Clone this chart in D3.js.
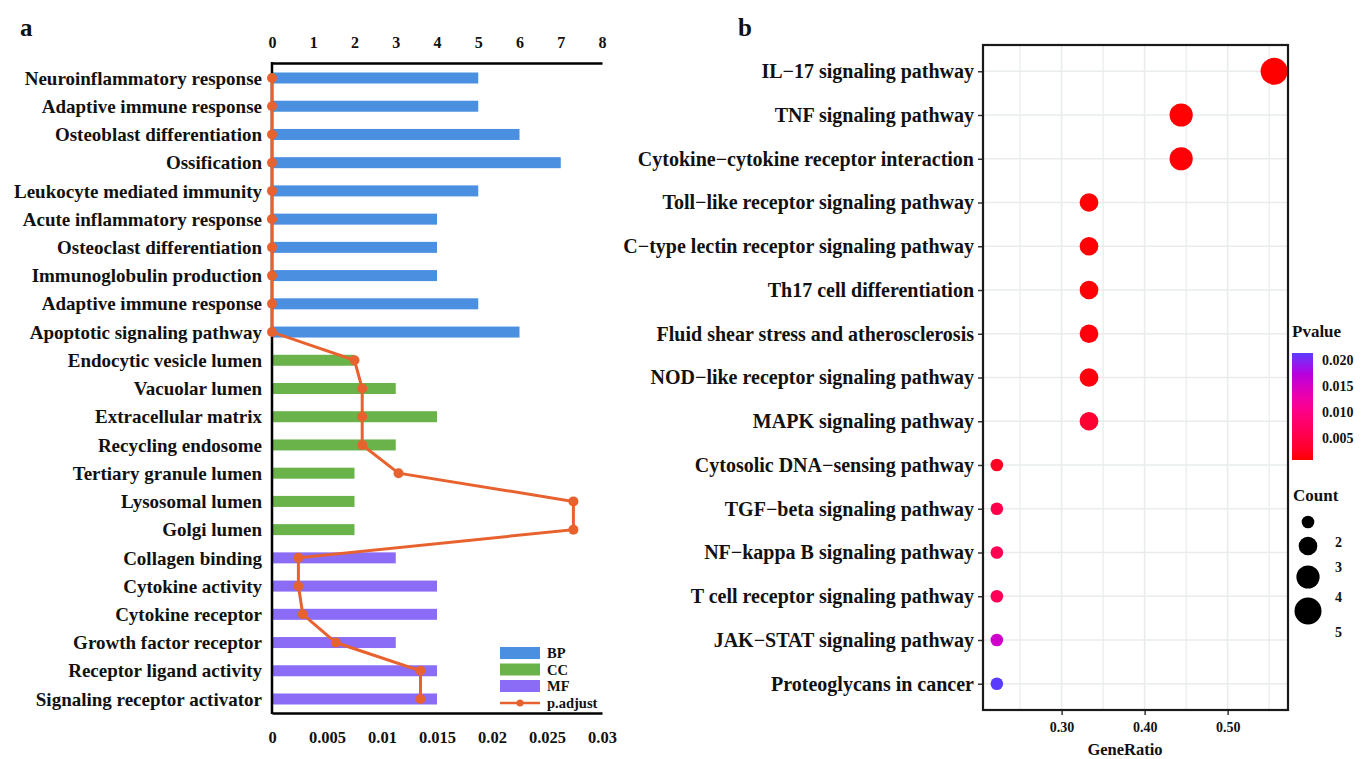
<!DOCTYPE html>
<html>
<head>
<meta charset="utf-8">
<script src="https://cdn.jsdelivr.net/npm/d3@7"></script>
<style>
  body { margin: 0; background: #fff; }
  svg text { font-family: "Liberation Serif", "Times New Roman", serif; font-weight: bold; fill: #111; }
</style>
</head>
<body>
<svg id="chart" width="1369" height="759"></svg>
<script>
// ---- panel a : GO terms ----
const goTerms = [
  "Neuroinflammatory response", "Adaptive immune response", "Osteoblast differentiation",
  "Ossification", "Leukocyte mediated immunity", "Acute inflammatory response",
  "Osteoclast differentiation", "Immunoglobulin production", "Adaptive immune response ",
  "Apoptotic signaling pathway", "Endocytic vesicle lumen", "Vacuolar lumen",
  "Extracellular matrix", "Recycling endosome", "Tertiary granule lumen",
  "Lysosomal lumen", "Golgi lumen", "Collagen binding", "Cytokine activity",
  "Cytokine receptor", "Growth factor receptor", "Receptor ligand activity",
  "Signaling receptor activator"
];
const goGroup = ["BP","BP","BP","BP","BP","BP","BP","BP","BP","BP",
  "CC","CC","CC","CC","CC","CC","CC",
  "MF","MF","MF","MF","MF","MF"];
const goCount = [5, 5, 6, 7, 5, 4, 4, 4, 5, 6, 2, 3, 4, 3, 2, 2, 2, 3, 4, 4, 3, 4, 4];
const goPadj = [0, 0, 0, 0, 0, 0, 0, 0, 0, 0,
  0.0075, 0.0082, 0.0082, 0.0082, 0.0115, 0.0274, 0.0274,
  0.0024, 0.0024, 0.0028, 0.0058, 0.0135, 0.0135];
const countTicks = [0, 1, 2, 3, 4, 5, 6, 7, 8];
const padjTicks = [0, 0.005, 0.01, 0.015, 0.02, 0.025, 0.03];
const groupNames = ["BP", "CC", "MF"];
const groupColors = ["#4a8fe0", "#6ab34a", "#8a6cf6"];

// ---- panel b : KEGG pathways ----
const keggTerms = [
  "IL\u221217 signaling pathway", "TNF signaling pathway",
  "Cytokine\u2212cytokine receptor interaction", "Toll\u2212like receptor signaling pathway",
  "C\u2212type lectin receptor signaling pathway", "Th17 cell differentiation",
  "Fluid shear stress and atherosclerosis", "NOD\u2212like receptor signaling pathway",
  "MAPK signaling pathway", "Cytosolic DNA\u2212sensing pathway", "TGF\u2212beta signaling pathway",
  "NF\u2212kappa B signaling pathway", "T cell receptor signaling pathway",
  "JAK\u2212STAT signaling pathway", "Proteoglycans in cancer"
];
const keggRatio = [0.556, 0.444, 0.444, 0.333, 0.333, 0.333, 0.333, 0.333, 0.333,
  0.222, 0.222, 0.222, 0.222, 0.222, 0.222];
const keggCount = [5, 4, 4, 3, 3, 3, 3, 3, 3, 2, 2, 2, 2, 2, 2];
const keggPvalue = [0.0008, 0.0009, 0.001, 0.001, 0.001, 0.001, 0.0012, 0.0012, 0.0035,
  0.0025, 0.0055, 0.006, 0.0065, 0.0155, 0.0213];
const ratioTicks = [0.30, 0.40, 0.50];
const ratioMinor = [0.25, 0.35, 0.45, 0.55];
const pvalueTicks = [0.005, 0.010, 0.015, 0.020];
const countLegend = [2, 3, 4, 5];

const svg = d3.select("#chart");

// ================= panel a =================
const ax = { left: 272, right: 602, top: 63, bottom: 713 };
const xCount = d3.scaleLinear().domain([0, 8]).range([ax.left, ax.right]);
const xPadj = d3.scaleLinear().domain([0, 0.03]).range([ax.left, ax.right]);
const yGo = d3.scalePoint().domain(d3.range(goTerms.length)).range([78, 699]);
const groupColor = d3.scaleOrdinal().domain(groupNames).range(groupColors);

svg.append("text").attr("x", 20).attr("y", 36).style("font-size", "25px").text("a");

const ga = svg.append("g");

ga.selectAll("rect.bar").data(goCount).join("rect")
  .attr("class", "bar")
  .attr("x", xCount(0))
  .attr("y", (d, i) => yGo(i) - 5.5)
  .attr("width", d => xCount(d) - xCount(0))
  .attr("height", 11)
  .attr("fill", (d, i) => groupColor(goGroup[i]));

// axes lines
const topAxis = d3.axisTop(xCount).tickValues(countTicks).tickSize(0).tickPadding(15);
ga.append("g").attr("transform", `translate(0,${ax.top})`).call(topAxis)
  .call(g => g.select(".domain").attr("stroke", "#000").attr("stroke-width", 2.5))
  .call(g => g.selectAll("text").style("font-size", "16px").style("font-family", "Liberation Serif").style("font-weight", "bold"));

const bottomAxis = d3.axisBottom(xPadj).tickValues(padjTicks).tickSize(0).tickPadding(18)
  .tickFormat(d => d === 0 ? "0" : String(+d.toFixed(3)));
ga.append("g").attr("transform", `translate(0,${ax.bottom})`).call(bottomAxis)
  .call(g => g.select(".domain").attr("stroke", "#000").attr("stroke-width", 2.5))
  .call(g => g.selectAll("text").style("font-size", "16.5px").style("font-family", "Liberation Serif").style("font-weight", "bold"));

ga.append("line").attr("x1", ax.left).attr("x2", ax.left).attr("y1", ax.top - 1).attr("y2", ax.bottom + 1)
  .attr("stroke", "#000").attr("stroke-width", 2.5);

// category labels
ga.selectAll("text.term").data(goTerms).join("text")
  .attr("class", "term")
  .attr("x", 262)
  .attr("y", (d, i) => yGo(i))
  .attr("dy", "0.35em")
  .attr("text-anchor", "end")
  .style("font-size", "19px")
  .text(d => d.trim());

// p.adjust line
const orange = "#e8622f";
const padjLine = d3.line().x(d => xPadj(d)).y((d, i) => yGo(i));
ga.append("path").datum(goPadj).attr("d", padjLine)
  .attr("fill", "none").attr("stroke", orange).attr("stroke-width", 3);
ga.selectAll("circle.pt").data(goPadj).join("circle")
  .attr("class", "pt")
  .attr("cx", d => xPadj(d)).attr("cy", (d, i) => yGo(i)).attr("r", 5)
  .attr("fill", orange);

// legend
const lg = ga.append("g").attr("transform", "translate(500,653)");
groupNames.forEach((g, i) => {
  lg.append("rect").attr("x", 0).attr("y", i * 16.5 - 6).attr("width", 40).attr("height", 12)
    .attr("fill", groupColor(g));
  lg.append("text").attr("x", 47).attr("y", i * 16.5).attr("dy", "0.35em").style("font-size", "14.5px").text(g);
});
lg.append("line").attr("x1", 0).attr("x2", 40).attr("y1", 50).attr("y2", 50)
  .attr("stroke", orange).attr("stroke-width", 2.5);
lg.append("circle").attr("cx", 20).attr("cy", 50).attr("r", 3.5).attr("fill", orange);
lg.append("text").attr("x", 47).attr("y", 50).attr("dy", "0.35em").style("font-size", "14.5px").text("p.adjust");

// ================= panel b =================
const bx = { left: 983, right: 1288, top: 45, bottom: 710 };
const rExt = d3.extent(keggRatio);
const rPad = (rExt[1] - rExt[0]) * 0.05;
const xRatio = d3.scaleLinear().domain([rExt[0] - rPad, rExt[1] + rPad]).range([bx.left, bx.right]);
const yKegg = d3.scalePoint().domain(d3.range(keggTerms.length)).range([bx.top, bx.bottom]).padding(0.6);
const pExt = d3.extent(keggPvalue);
const pColor = d3.scaleLinear().domain(pExt).range(["#ff0000", "#5a3cff"]).interpolate(d3.interpolateHcl);
const rSize = d3.scaleRadial().domain([2, 5]).range([6.3, 13.5]);

svg.append("text").attr("x", 738).attr("y", 36).style("font-size", "25px").text("b");

const gb = svg.append("g");

const gridColor = "#e9ecec";
gb.selectAll("line.minor").data(ratioMinor).join("line")
  .attr("x1", d => xRatio(d)).attr("x2", d => xRatio(d))
  .attr("y1", bx.top).attr("y2", bx.bottom)
  .attr("stroke", gridColor).attr("stroke-width", 1.2);
gb.selectAll("line.major").data(ratioTicks).join("line")
  .attr("x1", d => xRatio(d)).attr("x2", d => xRatio(d))
  .attr("y1", bx.top).attr("y2", bx.bottom)
  .attr("stroke", gridColor).attr("stroke-width", 1.6);
gb.selectAll("line.row").data(keggTerms).join("line")
  .attr("x1", bx.left).attr("x2", bx.right)
  .attr("y1", (d, i) => yKegg(i)).attr("y2", (d, i) => yKegg(i))
  .attr("stroke", gridColor).attr("stroke-width", 1.6);

gb.selectAll("circle.dot").data(keggTerms).join("circle")
  .attr("class", "dot")
  .attr("cx", (d, i) => xRatio(keggRatio[i]))
  .attr("cy", (d, i) => yKegg(i))
  .attr("r", (d, i) => rSize(keggCount[i]))
  .attr("fill", (d, i) => pColor(keggPvalue[i]));

gb.append("rect").attr("x", bx.left).attr("y", bx.top)
  .attr("width", bx.right - bx.left).attr("height", bx.bottom - bx.top)
  .attr("fill", "none").attr("stroke", "#1a1a1a").attr("stroke-width", 2.2);

// y axis labels
const yAxisB = d3.axisLeft(d3.scalePoint().domain(keggTerms).range(yKegg.range()).padding(0.6))
  .tickSize(4).tickPadding(4);
gb.append("g").attr("transform", `translate(${bx.left - 1},0)`).call(yAxisB)
  .call(g => g.select(".domain").remove())
  .call(g => g.selectAll("line").attr("stroke", "#333").attr("stroke-width", 1.5))
  .call(g => g.selectAll("text").style("font-size", "20px").style("font-family", "Liberation Serif").style("font-weight", "bold").attr("fill", "#111"));

// x axis
const xAxisB = d3.axisBottom(xRatio).tickValues(ratioTicks).tickSize(4).tickPadding(7).tickFormat(d3.format(".2f"));
gb.append("g").attr("transform", `translate(0,${bx.bottom + 1})`).call(xAxisB)
  .call(g => g.select(".domain").remove())
  .call(g => g.selectAll("line").attr("stroke", "#333").attr("stroke-width", 1.5))
  .call(g => g.selectAll("text").style("font-size", "14px").style("font-family", "Liberation Serif").style("font-weight", "bold").attr("fill", "#111"));

gb.append("text").attr("x", 1125).attr("y", 755).attr("text-anchor", "middle")
  .style("font-size", "16.5px").text("GeneRatio");

// Pvalue colorbar
const cb = { x: 1292, y0: 353, y1: 460, w: 21 };
const defs = svg.append("defs");
const grad = defs.append("linearGradient").attr("id", "pgrad")
  .attr("x1", 0).attr("y1", 1).attr("x2", 0).attr("y2", 0);
d3.range(0, 1.0001, 0.1).forEach(t => {
  grad.append("stop").attr("offset", t).attr("stop-color", pColor(pExt[0] + t * (pExt[1] - pExt[0])));
});
const yP = d3.scaleLinear().domain(pExt).range([cb.y1, cb.y0]);
gb.append("text").attr("x", 1292).attr("y", 337).style("font-size", "17px").text("Pvalue");
gb.append("rect").attr("x", cb.x).attr("y", cb.y0).attr("width", cb.w).attr("height", cb.y1 - cb.y0)
  .attr("fill", "url(#pgrad)");
gb.selectAll("text.pt").data(pvalueTicks).join("text")
  .attr("class", "pt")
  .attr("x", 1322).attr("y", d => yP(d)).attr("dy", "0.35em")
  .style("font-size", "14px").text(d3.format(".3f"));

// Count legend
gb.append("text").attr("x", 1293).attr("y", 501).style("font-size", "17px").text("Count");
const legCircleY = [522, 546, 577, 611];
const legLabelY = [542, 567, 597, 632];
gb.selectAll("circle.leg").data(countLegend).join("circle")
  .attr("class", "leg")
  .attr("cx", 1308).attr("cy", (d, i) => legCircleY[i]).attr("r", d => rSize(d))
  .attr("fill", "#000");
gb.selectAll("text.leg").data(countLegend).join("text")
  .attr("class", "leg")
  .attr("x", 1335).attr("y", (d, i) => legLabelY[i]).attr("dy", "0.35em")
  .style("font-size", "14px").text(d => d);
</script>
</body>
</html>
